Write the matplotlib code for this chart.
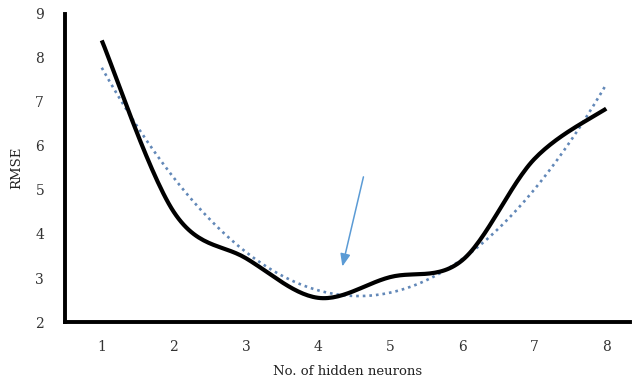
import numpy as np
import matplotlib
matplotlib.use("Agg")
import matplotlib.pyplot as plt

neurons = [1, 2, 3, 4, 5, 6, 7, 8]
rmse = [8.4, 4.5, 3.45, 2.55, 3.02, 3.4, 5.7, 6.85]
yticks = [2, 3, 4, 5, 6, 7, 8, 9]
arrow_start = (4.64, 5.36)
arrow_end = (4.33, 3.2)


def catmull_rom(xs, ys, n=30):
    xs = np.asarray(xs, float)
    ys = np.asarray(ys, float)
    px = np.concatenate([[xs[0]], xs, [xs[-1]]])
    py = np.concatenate([[ys[0]], ys, [ys[-1]]])
    ox, oy = [], []
    t = np.linspace(0, 1, n)
    for i in range(1, len(px) - 2):
        p0x, p1x, p2x, p3x = px[i - 1], px[i], px[i + 1], px[i + 2]
        p0y, p1y, p2y, p3y = py[i - 1], py[i], py[i + 1], py[i + 2]
        c1x, c1y = p1x + (p2x - p0x) / 6, p1y + (p2y - p0y) / 6
        c2x, c2y = p2x - (p3x - p1x) / 6, p2y - (p3y - p1y) / 6
        bx = (1 - t) ** 3 * p1x + 3 * (1 - t) ** 2 * t * c1x + 3 * (1 - t) * t ** 2 * c2x + t ** 3 * p2x
        by = (1 - t) ** 3 * p1y + 3 * (1 - t) ** 2 * t * c1y + 3 * (1 - t) * t ** 2 * c2y + t ** 3 * p2y
        ox.extend(bx)
        oy.extend(by)
    return np.array(ox), np.array(oy)


fig = plt.figure(figsize=(6.33, 3.85), dpi=100)
ax = fig.add_axes([65 / 633, 1 - 322 / 385, (630 - 65) / 633, (322 - 14) / 385])

# polynomial trendline
coef = np.polyfit(neurons, rmse, 2)
tx = np.linspace(1, 8, 200)
ax.plot(tx, np.polyval(coef, tx), linestyle=(0, (1, 1.5)), color="#6288B8", lw=1.9)

sx, sy = catmull_rom(neurons, rmse)
ax.plot(sx, sy, color="black", lw=3.0, solid_capstyle="butt")

ax.annotate("", xy=arrow_end, xytext=arrow_start,
            arrowprops=dict(arrowstyle="-|>,head_length=0.75,head_width=0.3",
                            color="#5B9BD5", lw=1.1))

ax.set_xlim(0.49, 8.33)
ax.set_ylim(2, 9)
ax.set_xticks(neurons)
ax.set_yticks(yticks)
for s in ["top", "right"]:
    ax.spines[s].set_visible(False)
for s in ["left", "bottom"]:
    ax.spines[s].set_linewidth(2.8)
ax.tick_params(axis="x", length=0, labelsize=10, colors="#333333", pad=13)
ax.tick_params(axis="y", length=0, labelsize=10, colors="#333333", pad=15)
for lbl in ax.get_xticklabels() + ax.get_yticklabels():
    lbl.set_family("DejaVu Serif")
ax.set_xlabel("No. of hidden neurons", family="DejaVu Serif", fontsize=9.5, labelpad=8, color="#222222")
ax.set_ylabel("RMSE", family="DejaVu Serif", fontsize=9.5, labelpad=9, color="#222222")

fig.savefig("out.png", dpi=100)
